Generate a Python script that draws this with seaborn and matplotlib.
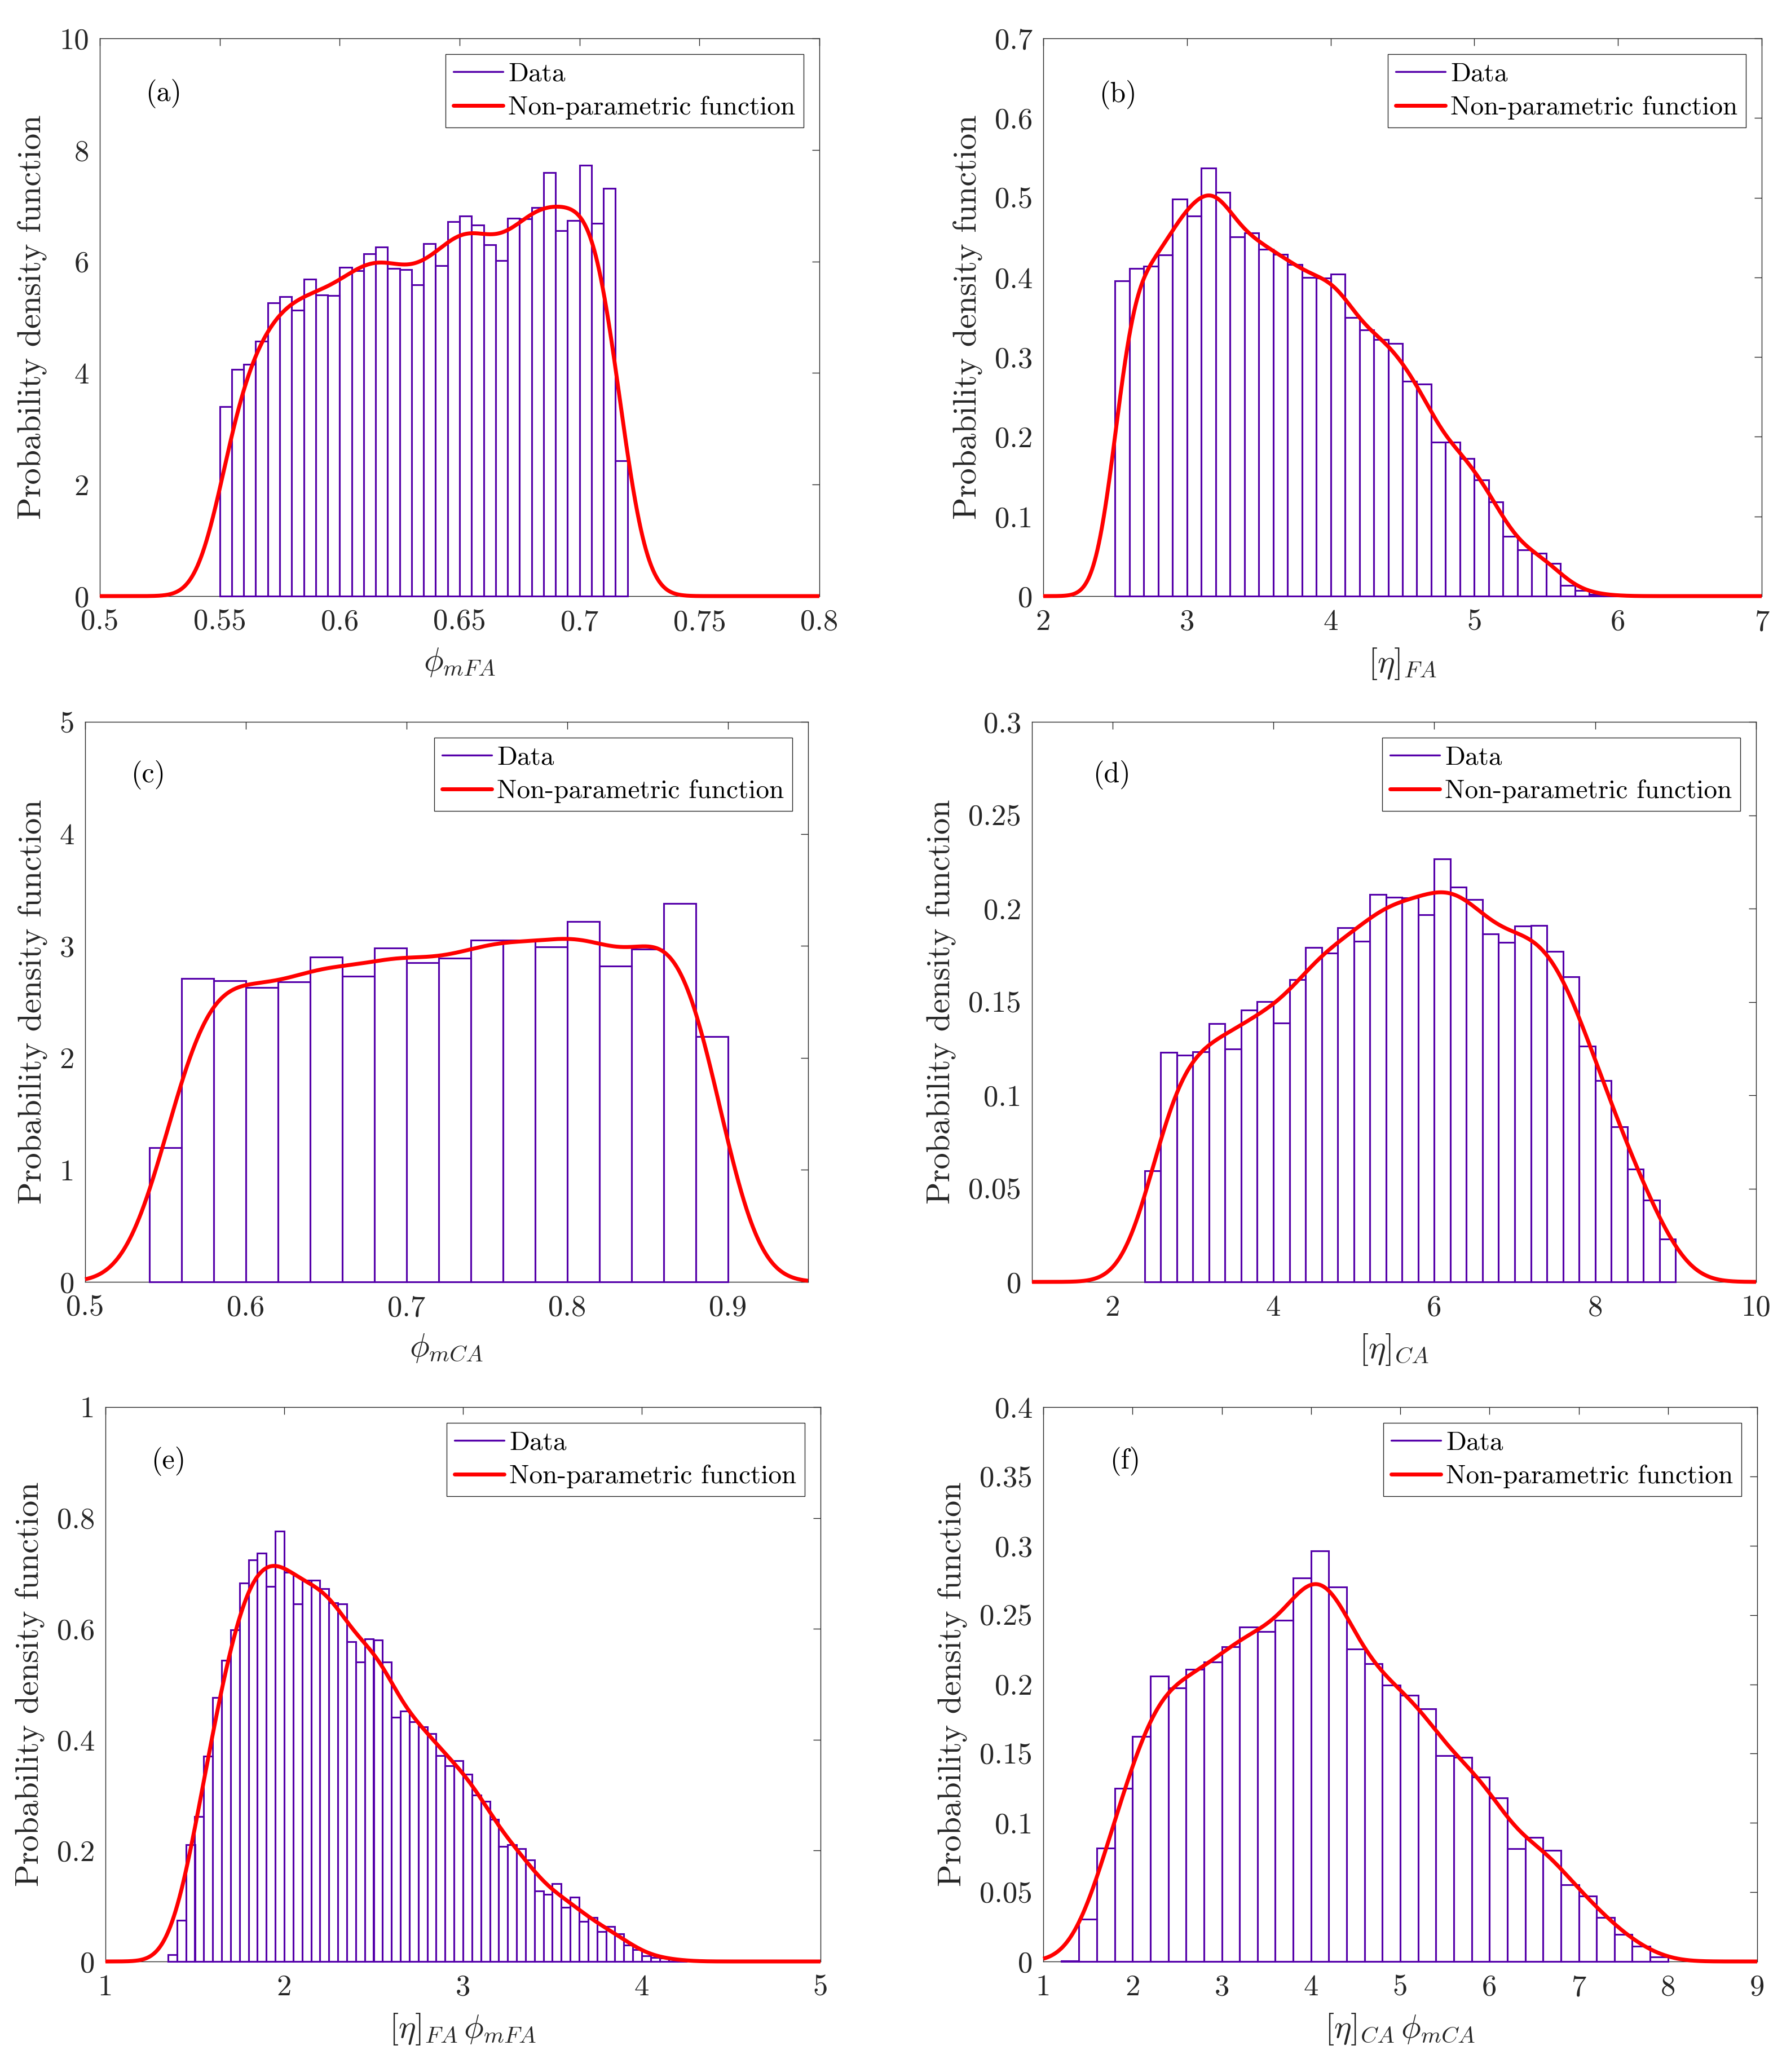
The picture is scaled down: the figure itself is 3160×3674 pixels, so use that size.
import numpy as np
import matplotlib
matplotlib.use("Agg")
import matplotlib.pyplot as plt
from matplotlib.lines import Line2D
from matplotlib.ticker import FuncFormatter, FixedLocator
import seaborn as sns

# ---------------- data (probability densities) ----------------
# (a) phi_mFA : bins of 0.005 starting at 0.55
phi_mFA_start, phi_mFA_width = 0.55, 0.005
phi_mFA_density = [3.40, 4.06, 4.16, 4.57, 5.26, 5.37, 5.13, 5.68, 5.40, 5.39,
                   5.89, 5.83, 6.14, 6.26, 5.87, 5.85, 5.58, 6.32, 5.93, 6.71,
                   6.82, 6.65, 6.30, 6.02, 6.77, 6.76, 6.97, 7.59, 6.55, 6.73,
                   7.73, 6.68, 7.31, 2.43]

# (b) [eta]_FA : bins of 0.1 starting at 2.5
eta_FA_start, eta_FA_width = 2.5, 0.1
eta_FA_density = [0.396, 0.411, 0.414, 0.428, 0.498, 0.477, 0.537, 0.507, 0.451, 0.456,
                  0.435, 0.429, 0.416, 0.400, 0.399, 0.404, 0.350, 0.334, 0.322, 0.317,
                  0.270, 0.266, 0.193, 0.193, 0.173, 0.146, 0.118, 0.075, 0.058, 0.054,
                  0.041, 0.0135, 0.007, 0.0024, 0.001]

# (c) phi_mCA : bins of 0.02 starting at 0.54
phi_mCA_start, phi_mCA_width = 0.54, 0.02
phi_mCA_density = [1.20, 2.71, 2.69, 2.63, 2.68, 2.90, 2.73, 2.98, 2.85, 2.89,
                   3.05, 3.05, 2.99, 3.22, 2.82, 2.97, 3.38, 2.19]

# (d) [eta]_CA : bins of 0.2 starting at 2.4
eta_CA_start, eta_CA_width = 2.4, 0.2
eta_CA_density = [0.0596, 0.1231, 0.1213, 0.1232, 0.1383, 0.1247, 0.1457, 0.1502, 0.1386, 0.1620,
                  0.1792, 0.1761, 0.1897, 0.1825, 0.2075, 0.2061, 0.2057, 0.1967, 0.2265, 0.2115,
                  0.2049, 0.1863, 0.1820, 0.1905, 0.1908, 0.1771, 0.1635, 0.1262, 0.1080, 0.0830,
                  0.0604, 0.0437, 0.0229]

# (e) [eta]_FA*phi_mFA : bins of 0.05 starting at 1.35
etaphi_FA_start, etaphi_FA_width = 1.35, 0.05
etaphi_FA_density = [0.012, 0.074, 0.2105, 0.261, 0.370, 0.476, 0.543, 0.598, 0.683, 0.7245,
                     0.737, 0.677, 0.776, 0.702, 0.645, 0.688, 0.688, 0.672, 0.647, 0.645,
                     0.577, 0.540, 0.582, 0.580, 0.540, 0.440, 0.452, 0.432, 0.423, 0.411,
                     0.371, 0.353, 0.362, 0.338, 0.300, 0.289, 0.256, 0.208, 0.211, 0.203,
                     0.183, 0.127, 0.121, 0.140, 0.0975, 0.1157, 0.0727, 0.0795, 0.054, 0.063,
                     0.050, 0.029, 0.021, 0.010, 0.007, 0.006, 0.004, 0.001]

# (f) [eta]_CA*phi_mCA : bins of 0.2 starting at 1.2
etaphi_CA_start, etaphi_CA_width = 1.2, 0.2
etaphi_CA_density = [0.0005, 0.0307, 0.0818, 0.1251, 0.1622, 0.2061, 0.1973, 0.2108, 0.2161, 0.2271,
                     0.2415, 0.2382, 0.2461, 0.2768, 0.2961, 0.2702, 0.2256, 0.2150, 0.1995, 0.1920,
                     0.1825, 0.1485, 0.1474, 0.1330, 0.1182, 0.0815, 0.0895, 0.0800, 0.0552, 0.0473,
                     0.0316, 0.0197, 0.0110, 0.0033]

# tick labels
a_xticks = [0.5, 0.55, 0.6, 0.65, 0.7, 0.75, 0.8]
a_yticks = [0, 2, 4, 6, 8, 10]
b_xticks = [2, 3, 4, 5, 6, 7]
b_yticks = [0, 0.1, 0.2, 0.3, 0.4, 0.5, 0.6, 0.7]
c_xticks = [0.5, 0.6, 0.7, 0.8, 0.9]
c_yticks = [0, 1, 2, 3, 4, 5]
d_xticks = [2, 4, 6, 8, 10]
d_yticks = [0, 0.05, 0.1, 0.15, 0.2, 0.25, 0.3]
e_xticks = [1, 2, 3, 4, 5]
e_yticks = [0, 0.2, 0.4, 0.6, 0.8, 1]
f_xticks = [1, 2, 3, 4, 5, 6, 7, 8, 9]
f_yticks = [0, 0.05, 0.1, 0.15, 0.2, 0.25, 0.3, 0.35, 0.4]

legend_labels = ["Data", "Non-parametric function"]
ylabel_text = "Probability density function"

# ---------------- style ----------------
PURPLE = "#5500AA"
RED = "#FF0000"
DARK = "0.15"

sns.set_theme(style="white")
plt.rcParams.update({
    "font.family": "serif",
    "font.serif": ["cmr10"],
    "mathtext.fontset": "cm",
    "axes.formatter.use_mathtext": True,
    "axes.unicode_minus": False,
})

W, H = 3160, 3674
fig = plt.figure(figsize=(W / 200, H / 200), dpi=200)
fig.patch.set_facecolor("white")


def rect(l, r, t, b):
    return [l / W, 1 - b / H, (r - l) / W, (b - t) / H]


panels = [
    dict(tag="(a)", start=phi_mFA_start, width=phi_mFA_width, dens=phi_mFA_density,
         xlabel=r"$\phi_{mFA}$", xlim=(0.5, 0.8), ylim=(0, 10), xt=a_xticks, yt=a_yticks,
         bw=0.009, pos=rect(177, 1453, 68, 1057), tagpos=(0.089, 0.901)),
    dict(tag="(b)", start=eta_FA_start, width=eta_FA_width, dens=eta_FA_density,
         xlabel=r"$[\eta]_{FA}$", xlim=(2, 7), ylim=(0, 0.7), xt=b_xticks, yt=b_yticks,
         bw=0.12, pos=rect(1850, 3124, 68, 1057), tagpos=(0.104, 0.899)),
    dict(tag="(c)", start=phi_mCA_start, width=phi_mCA_width, dens=phi_mCA_density,
         xlabel=r"$\phi_{mCA}$", xlim=(0.5, 0.95), ylim=(0, 5), xt=c_xticks, yt=c_yticks,
         bw=0.02, pos=rect(151, 1433, 1280, 2273), tagpos=(0.087, 0.905)),
    dict(tag="(d)", start=eta_CA_start, width=eta_CA_width, dens=eta_CA_density,
         xlabel=r"$[\eta]_{CA}$", xlim=(1, 10), ylim=(0, 0.3), xt=d_xticks, yt=d_yticks,
         bw=0.32, pos=rect(1830, 3114, 1280, 2273), tagpos=(0.110, 0.905)),
    dict(tag="(e)", start=etaphi_FA_start, width=etaphi_FA_width, dens=etaphi_FA_density,
         xlabel=r"$[\eta]_{FA}\,\phi_{mFA}$", xlim=(1, 5), ylim=(0, 1), xt=e_xticks, yt=e_yticks,
         bw=0.10, pos=rect(187, 1455, 2495, 3478), tagpos=(0.088, 0.902)),
    dict(tag="(f)", start=etaphi_CA_start, width=etaphi_CA_width, dens=etaphi_CA_density,
         xlabel=r"$[\eta]_{CA}\,\phi_{mCA}$", xlim=(1, 9), ylim=(0, 0.4), xt=f_xticks, yt=f_yticks,
         bw=0.25, pos=rect(1850, 3116, 2495, 3478), tagpos=(0.115, 0.902)),
]

fmt = FuncFormatter(lambda v, _: f"{v:g}")

for p in panels:
    ax = fig.add_axes(p["pos"])
    ax.set_facecolor("white")
    dens = np.asarray(p["dens"], dtype=float)
    nb = len(dens)
    lo = p["start"]
    hi = p["start"] + p["width"] * nb
    centers = lo + p["width"] * (np.arange(nb) + 0.5)

    sns.histplot(x=centers, weights=dens, bins=nb, binrange=(lo, hi), stat="count",
                 fill=False, color=PURPLE, edgecolor=PURPLE, linewidth=1.1, ax=ax)
    std = np.sqrt(np.cov(centers, aweights=dens))
    sns.kdeplot(x=centers, weights=dens, bw_method=p["bw"] / std, cut=1000,
                clip=p["xlim"], gridsize=3000, color=RED, linewidth=2.5, ax=ax)

    for patch in ax.patches:
        patch.set_clip_on(False)
        patch.set_zorder(3)
    for ln in ax.lines:
        ln.set_clip_on(False)
        ln.set_zorder(4)
        ln.set_solid_capstyle("butt")

    ax.set_xlim(*p["xlim"])
    ax.set_ylim(*p["ylim"])
    ax.xaxis.set_major_locator(FixedLocator(p["xt"]))
    ax.yaxis.set_major_locator(FixedLocator(p["yt"]))
    ax.xaxis.set_major_formatter(fmt)
    ax.yaxis.set_major_formatter(fmt)
    ax.tick_params(axis="both", which="major", direction="in", top=True, right=True,
                   length=4.7, width=0.5, color=DARK, labelcolor=DARK, labelsize=19)
    ax.tick_params(axis="x", pad=8.3)
    ax.tick_params(axis="y", pad=6.8)
    for sp in ax.spines.values():
        sp.set_visible(True)
        sp.set_color(DARK)
        sp.set_linewidth(0.5)
        sp.set_zorder(2.5)

    ax.set_xlabel(p["xlabel"], fontsize=21, color=DARK, labelpad=7)
    ax.set_ylabel(ylabel_text, fontsize=21, color=DARK, labelpad=8)

    handles = [Line2D([], [], color=PURPLE, lw=1.2), Line2D([], [], color=RED, lw=2.5)]
    leg = ax.legend(handles=handles, labels=legend_labels, loc="upper right", fontsize=17,
                    frameon=True, fancybox=False, shadow=False, framealpha=1,
                    facecolor="white", edgecolor=DARK, borderpad=0.3, labelspacing=0.37,
                    handlelength=1.85, handletextpad=0.2, borderaxespad=0.6)
    leg.get_frame().set_linewidth(0.5)
    leg.set_zorder(6)
    for t in leg.get_texts():
        t.set_color("black")

    ax.text(p["tagpos"][0], p["tagpos"][1], p["tag"], transform=ax.transAxes,
            ha="center", va="center", fontsize=18, color="black")

fig.savefig("out.png", dpi=200, facecolor="white")
